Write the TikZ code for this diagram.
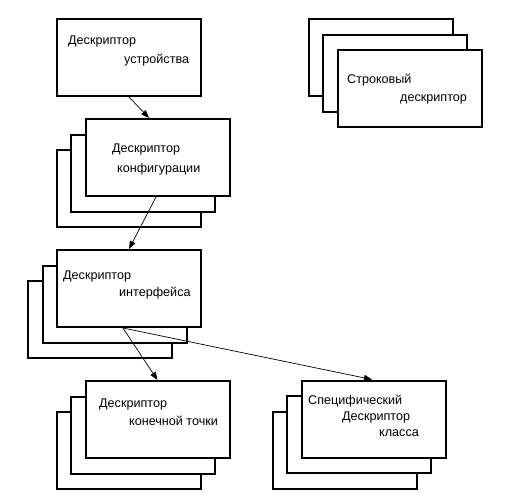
\documentclass[tikz,border=0pt]{standalone}
\usepackage{fontspec}
\setmainfont{Liberation Sans}
\usetikzlibrary{arrows.meta,positioning,calc}

\begin{document}
\begin{tikzpicture}[x=1pt,y=-1pt]
    \tikzstyle{card}=[draw,rectangle,fill=white,line width=2pt,minimum width=144pt,minimum height=77pt,inner sep=0pt]
    \tikzstyle{lbl}=[anchor=base west,inner sep=0pt,font=\fontsize{12.6}{14}\selectfont]
    \tikzstyle{link}=[line width=0.7pt,-{Triangle[length=8pt,width=6pt]}]

    \useasboundingbox (0,0) rectangle (523,501);

    % single device card
    \node[card] at (129,57.5) (dev) {};
    \node[lbl] at (68,44) (dev-t1) {Дескриптор};
    \node[lbl] at (124,63) (dev-t2) {устройства};

    % stacks of three cards, drawn back to front
    \foreach \n/\x/\y/\s in {cfg/157.5/157.5/1,itf/129/288.5/1,ept/157.5/419.5/1,cls/373.5/419/1,str/409.5/88.5/-1} {
      \node[card] at (\x-29,\y+31*\s) (\n-c) {};
      \node[card] at (\x-14.5,\y+15.5*\s) (\n-b) {};
      \node[card] at (\x,\y) (\n) {};
    }

    \node[lbl] at (112,152) (cfg-t1) {Дескриптор};
    \node[lbl] at (117,172) (cfg-t2) {конфигурации};
    \node[lbl] at (63,279) (itf-t1) {Дескриптор};
    \node[lbl] at (119,296) (itf-t2) {интерфейса};
    \node[lbl] at (99,407.5) (ept-t1) {Дескриптор};
    \node[lbl] at (129,425.5) (ept-t2) {конечной точки};
    \node[lbl] at (308,404) (cls-t1) {Специфический};
    \node[lbl] at (342,420.5) (cls-t2) {Дескриптор};
    \node[lbl] at (379,436) (cls-t3) {класса};
    \node[lbl] at (347,83.5) (str-t1) {Строковый};
    \node[lbl] at (400,101.5) (str-t2) {дескриптор};

    % links
    \draw[link] (dev.south) -- ($(cfg.north)+(-8.5,0)$);
    \draw[link] ($(cfg.south)+(-1.5,0)$) -- (itf.north);
    \draw[link] ($(itf.south)+(-6,0)$) -- (ept.north);
    \draw[link] ($(itf.south)+(-6,0)$) -- ($(cls.north)+(-1.5,0)$);
  \end{tikzpicture}
\end{document}
